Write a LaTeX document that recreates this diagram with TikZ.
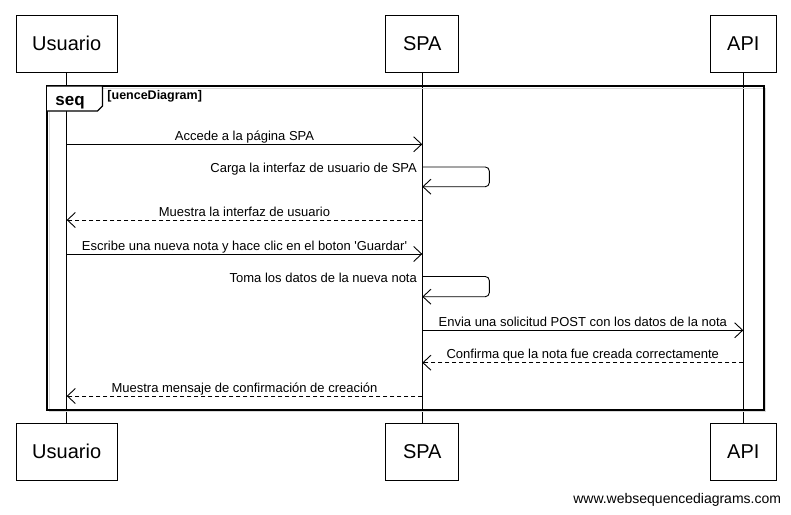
\documentclass[tikz,border=0pt]{standalone}
\usepackage{fontspec}
\setmainfont{Liberation Sans}[Ligatures=TeXOff]
\usetikzlibrary{arrows.meta, positioning}

\begin{document}
\begin{tikzpicture}[x=1pt, y=-1pt, line width=0.9pt, >={Straight Barb[length=8pt,width=15pt]},
    actor/.style={rectangle, draw, minimum height=57pt, font=\fontsize{20}{24}\selectfont},
    msg/.style={->},
    reply/.style={->, dash pattern=on 4pt off 3pt},
    lbl/.style={font=\fontsize{13}{15}\selectfont, inner sep=0pt, anchor=base, yshift=4pt},
    selflbl/.style={font=\fontsize{13}{15}\selectfont, inner sep=0pt, anchor=base east, xshift=-5pt, yshift=-5.5pt}]

    \useasboundingbox[fill=white] (0,0) rectangle (791,514);

    % participants, top and bottom
    \node[actor, minimum width=101pt] (usuario) at (66.7,43.5) {Usuario};
    \node[actor, minimum width=73pt] (spa) at (422.3,43.5) {SPA};
    \node[actor, minimum width=66pt] (api) at (743.3,43.5) {API};
    \node[actor, minimum width=101pt] (usuarioB) at (66.7,451.7) {Usuario};
    \node[actor, minimum width=73pt] (spaB) at (422.3,451.7) {SPA};
    \node[actor, minimum width=66pt] (apiB) at (743.3,451.7) {API};

    % lifelines
    \draw (usuario) -- (usuarioB);
    \draw (spa) -- (spaB);
    \draw (api) -- (apiB);

    % frame
    \draw[gray!30, line width=1pt] (49,88) rectangle (765.5,411.5);
    \draw[line width=2pt] (47,86) rectangle (764,410);
    \draw[line width=1.2pt, fill=white] (47,86) -- (102.5,86) -- (102.5,106) -- (97.5,111) -- (47,111);
    \node[font=\fontsize{17}{20}\selectfont\bfseries, anchor=base, inner sep=0pt] (seq) at (70,105) {seq};
    \node[font=\fontsize{12.5}{15}\selectfont\bfseries, anchor=north west, inner sep=0pt] (frametitle) at (107,89.5) {[uenceDiagram]};

    % messages
    \draw[msg] (usuario |- 0,144.3) -- node[lbl] {Accede a la página SPA} (spa |- 0,144.3);
    \draw[msg, rounded corners=4pt] (spa |- 0,167) node[selflbl] {Carga la interfaz de usuario de SPA}
        -- ++(67,0) |- (spa |- 0,186.7);
    \draw[reply] (spa |- 0,220) -- node[lbl] {Muestra la interfaz de usuario} (usuario |- 0,220);
    \draw[msg] (usuario |- 0,254) -- node[lbl] {Escribe una nueva nota y hace clic en el boton 'Guardar'} (spa |- 0,254);
    \draw[msg, rounded corners=4pt] (spa |- 0,276.5) node[selflbl] {Toma los datos de la nueva nota}
        -- ++(67,0) |- (spa |- 0,296.7);
    \draw[msg] (spa |- 0,330.3) -- node[lbl] {Envia una solicitud POST con los datos de la nota} (api |- 0,330.3);
    \draw[reply] (api |- 0,362.7) -- node[lbl] {Confirma que la nota fue creada correctamente} (spa |- 0,362.7);
    \draw[reply] (spa |- 0,396) -- node[lbl] {Muestra mensaje de confirmación de creación} (usuario |- 0,396);

    \node[font=\fontsize{14}{17}\selectfont, anchor=base east, inner sep=0pt] (footer) at (781.5,503) {www.websequencediagrams.com};
\end{tikzpicture}
\end{document}
